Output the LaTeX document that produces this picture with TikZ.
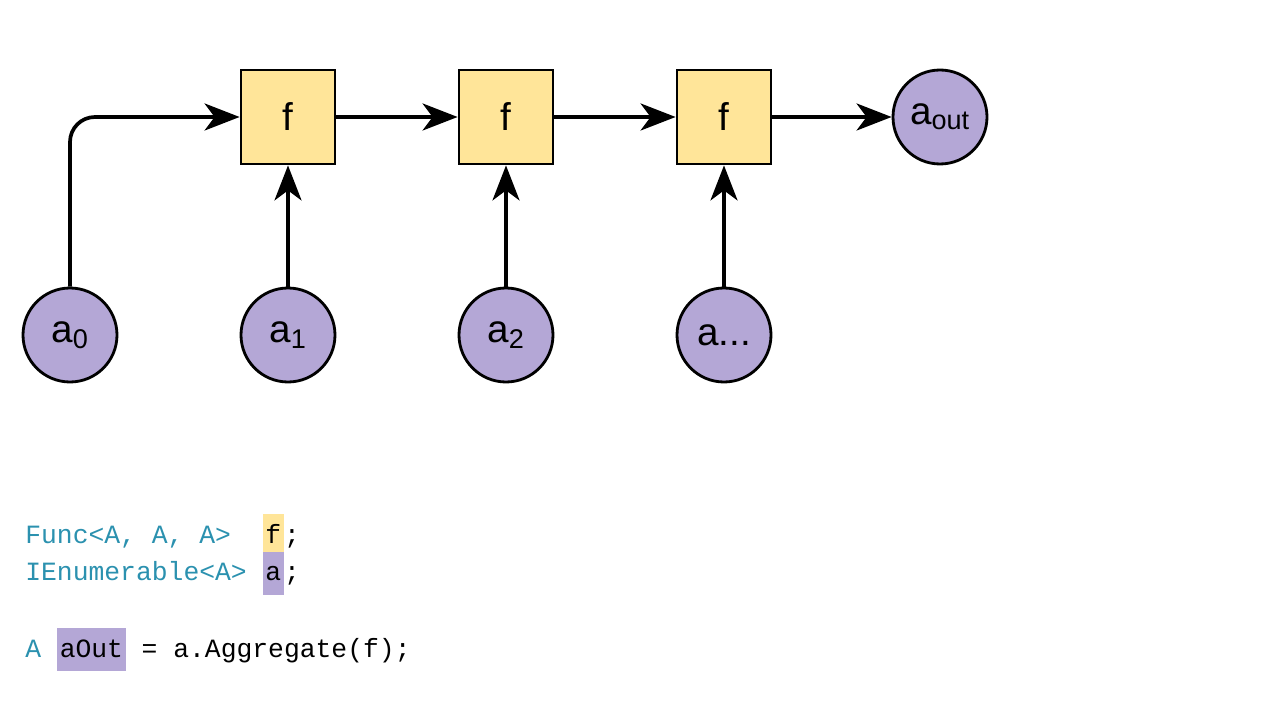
\documentclass[tikz,border=0pt]{standalone}
\usepackage{fontspec}
\setmainfont{Liberation Sans}
\setmonofont{Liberation Mono}
\usetikzlibrary{arrows.meta}
\definecolor{fyellow}{HTML}{FFE599}
\definecolor{apurple}{HTML}{B4A7D6}
\definecolor{typeblue}{HTML}{2B91AF}
\newcommand{\hl}[2]{{\setlength{\fboxsep}{1.6pt}\colorbox{#1}{\strut #2}}}
\begin{document}
\begin{tikzpicture}[
  font=\fontsize{22}{26}\selectfont,
  >={Stealth[length=7mm,width=5.4mm,inset=2mm]},
  fbox/.style={draw,line width=1.6pt,fill=fyellow,minimum size=1.88cm,inner sep=0pt},
  elem/.style={circle,draw,line width=1.6pt,fill=apurple,minimum size=1.88cm,inner sep=0pt},
  flow/.style={->,line width=2.1pt},
  code/.style={anchor=base west,inner sep=0pt,font=\ttfamily\fontsize{15}{21.5}\selectfont}
]
\useasboundingbox (0,0) rectangle (25.6,14.4);

% functions
\node[fbox] (f1) at (5.76,12.06) {f};
\node[fbox] (f2) at (10.12,12.06) {f};
\node[fbox] (f3) at (14.48,12.06) {f};
\node[elem] (aout) at (18.8,12.06) {a\textsubscript{out}};

% elements
\node[elem] (a0) at (1.4,7.7) {a\textsubscript{0}};
\node[elem] (a1) at (5.76,7.7) {a\textsubscript{1}};
\node[elem] (a2) at (10.12,7.7) {a\textsubscript{2}};
\node[elem] (a3) at (14.48,7.7) {a...};

\draw[flow,rounded corners=0.5cm] (a0) |- (f1);
\draw[flow] (f1) -- (f2);
\draw[flow] (f2) -- (f3);
\draw[flow] (f3) -- (aout);
\draw[flow] (a1) -- (f1);
\draw[flow] (a2) -- (f2);
\draw[flow] (a3) -- (f3);

% code
\node[code] (l1) at (0.5,3.54)
  {\textcolor{typeblue}{Func<A, A, A>}\ \ \hl{fyellow}{f};};
\node[code] (l2) at (0.5,2.78)
  {\textcolor{typeblue}{IEnumerable<A>}\ \hl{apurple}{a};};
\node[code] (l3) at (0.5,1.26)
  {\textcolor{typeblue}{A}\ \hl{apurple}{aOut} = a.Aggregate(f);};
\end{tikzpicture}
\end{document}
